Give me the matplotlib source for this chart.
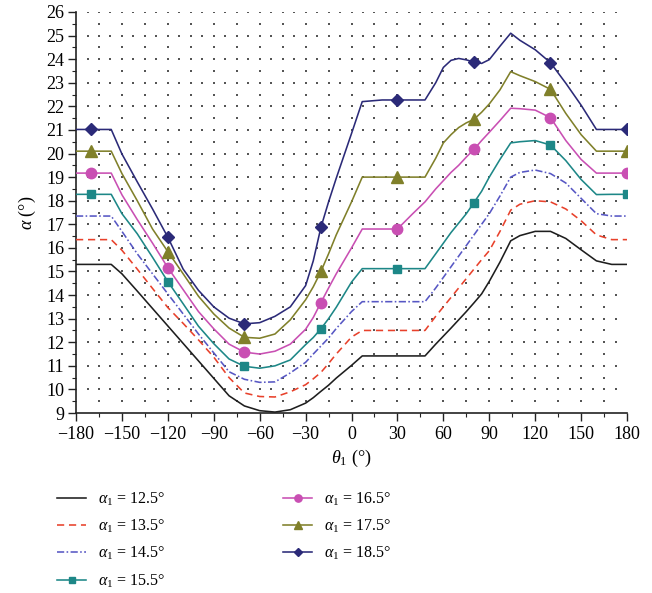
import numpy as np
import matplotlib
matplotlib.use('Agg')
import matplotlib.pyplot as plt
from matplotlib.ticker import MultipleLocator

plt.rcParams['font.family'] = ['Liberation Serif', 'DejaVu Serif']
plt.rcParams['mathtext.fontset'] = 'custom'
plt.rcParams['mathtext.rm'] = 'Liberation Serif'
plt.rcParams['mathtext.it'] = 'Liberation Serif:italic'

# theta_1 sample positions (deg)
theta = [-180, -170, -157, -150, -140, -130, -120, -110, -100, -90, -80, -70, -60, -50,
         -40, -30, -25, -20, -15, -10, 0, 7, 20, 30, 40, 48, 55, 60, 65, 70, 75, 80,
         85, 90, 97, 104, 110, 120, 130, 140, 150, 160, 170, 180]
marker_theta = [-170, -120, -70, -20, 30, 80, 130, 180]

a125 = [15.3, 15.3, 15.3, 14.9, 14.17, 13.43, 12.69, 11.95, 11.21, 10.47, 9.73, 9.3, 9.1, 9.04,
        9.14, 9.42, 9.65, 9.92, 10.18, 10.48, 11.02, 11.42, 11.42, 11.42, 11.42, 11.42, 11.92, 12.26,
        12.6, 12.95, 13.3, 13.67, 14.05, 14.58, 15.4, 16.3, 16.52, 16.7, 16.7, 16.4, 15.92, 15.45,
        15.3, 15.3]
a135 = [16.35, 16.35, 16.35, 15.9, 15.1, 14.28, 13.47, 12.8, 12.1, 11.37, 10.5, 9.85, 9.7, 9.68,
        9.9, 10.2, 10.45, 10.72, 11.1, 11.5, 12.22, 12.5, 12.5, 12.5, 12.5, 12.5, 13.1, 13.5,
        13.9, 14.3, 14.7, 15.1, 15.5, 15.88, 16.7, 17.6, 17.85, 18.0, 17.95, 17.65, 17.15, 16.55,
        16.35, 16.35]
a145 = [17.35, 17.35, 17.35, 16.7, 15.75, 14.9, 14.05, 13.2, 12.35, 11.55, 10.75, 10.43, 10.3, 10.32,
        10.7, 11.15, 11.5, 11.84, 12.18, 12.58, 13.3, 13.72, 13.72, 13.72, 13.72, 13.72, 14.3, 14.75,
        15.2, 15.65, 16.1, 16.55, 17.0, 17.45, 18.2, 19.0, 19.2, 19.3, 19.15, 18.75, 18.1, 17.45,
        17.35, 17.35]
a155 = [18.27, 18.27, 18.27, 17.45, 16.6, 15.6, 14.57, 13.63, 12.68, 11.94, 11.29, 10.98, 10.9, 11.0,
        11.25, 11.9, 12.2, 12.57, 13.0, 13.48, 14.55, 15.12, 15.12, 15.12, 15.12, 15.12, 15.75, 16.2,
        16.65, 17.05, 17.45, 17.92, 18.4, 19.0, 19.75, 20.45, 20.5, 20.55, 20.36, 19.7, 18.9, 18.26,
        18.27, 18.27]
a165 = [19.17, 19.17, 19.17, 18.25, 17.2, 16.2, 15.16, 14.23, 13.3, 12.57, 11.92, 11.58, 11.5, 11.62,
        11.92, 12.55, 13.05, 13.68, 14.3, 14.9, 16.0, 16.8, 16.8, 16.8, 17.45, 17.95, 18.5, 18.85,
        19.2, 19.5, 19.85, 20.18, 20.55, 20.9, 21.4, 21.92, 21.9, 21.84, 21.52, 20.55, 19.75, 19.17,
        19.17, 19.17]
a175 = [20.1, 20.1, 20.1, 19.15, 18.0, 16.8, 15.84, 14.9, 13.95, 13.2, 12.6, 12.21, 12.17, 12.35,
        12.95, 13.8, 14.35, 15.0, 15.75, 16.55, 17.95, 19.0, 19.0, 19.0, 19.0, 19.0, 19.8, 20.45,
        20.8, 21.1, 21.3, 21.45, 21.75, 22.1, 22.7, 23.47, 23.3, 23.05, 22.72, 21.7, 20.8, 20.1,
        20.1, 20.1]
a185 = [21.02, 21.02, 21.02, 19.98, 18.8, 17.65, 16.45, 15.1, 14.2, 13.5, 13.02, 12.78, 12.83, 13.1,
        13.5, 14.4, 15.45, 16.87, 17.95, 18.95, 20.85, 22.2, 22.27, 22.27, 22.27, 22.27, 23.0, 23.65,
        23.95, 24.03, 23.97, 23.88, 23.82, 23.98, 24.55, 25.1, 24.8, 24.4, 23.85, 22.98, 22.05, 21.02,
        21.02, 21.02]

labels = ['12.5', '13.5', '14.5', '15.5', '16.5', '17.5', '18.5']
series = [a125, a135, a145, a155, a165, a175, a185]
colors = ['#1e1e1e', '#e8412b', '#5757c4', '#1d8787', '#c94fb3', '#80802a', '#2b2a78']
styles = ['-', (0, (4.5, 3.0)), (0, (4.5, 1.5, 1.0, 1.5)), '-', '-', '-', '-']
markers = [None, None, None, 's', 'o', '^', 'D']
msizes = [0, 0, 0, 6, 7.5, 8, 6.5]

fig = plt.figure(figsize=(6.52, 5.93), dpi=100)
ax = fig.add_axes([0.1166, 0.3035, 0.8451, 0.6763])

# dotted background grid
gx_minor = np.arange(-165, 180, 15)
gx_major = np.arange(-172.5, 180, 7.5)
gy_half = np.arange(9.5, 26, 1.0)
gy_int = np.arange(10, 26.5, 1.0)
X1, Y1 = np.meshgrid(gx_minor, gy_half)
X2, Y2 = np.meshgrid(gx_major, gy_int)
ax.scatter(X1.ravel(), Y1.ravel(), s=0.7, c='#555555', marker='s', linewidths=0, zorder=1)
ax.scatter(X2.ravel(), Y2.ravel(), s=0.7, c='#555555', marker='s', linewidths=0, zorder=1)

mk_idx = [theta.index(t) for t in marker_theta]
for lab, vals, c, ls, m, ms in zip(labels, series, colors, styles, markers, msizes):
    kw = {}
    if m is not None:
        kw = dict(marker=m, markersize=ms, markevery=mk_idx, markerfacecolor=c, markeredgecolor=c)
    ax.plot(theta, vals, color=c, linestyle=ls, lw=1.15, zorder=3,
            label=r'$\alpha_1$ = ' + lab + '°', **kw)

ax.set_xlim(-180, 180)
ax.set_ylim(9, 26)
ax.xaxis.set_major_locator(MultipleLocator(30))
ax.xaxis.set_minor_locator(MultipleLocator(15))
ax.yaxis.set_major_locator(MultipleLocator(1))
ax.yaxis.set_minor_locator(MultipleLocator(0.5))
ax.tick_params(which='major', direction='out', length=5.5, width=1, labelsize=13, color='#222222')
ax.tick_params(which='minor', direction='out', length=3, width=0.8, color='#222222')
ax.tick_params(axis='x', pad=4)
ax.tick_params(axis='y', pad=3)
for s in ['top', 'right']:
    ax.spines[s].set_visible(False)
for s in ['left', 'bottom']:
    ax.spines[s].set_linewidth(1.2)
    ax.spines[s].set_color('#222222')

ax.set_xlabel(r'$\theta_1$ (°)', fontsize=13, labelpad=3)
ax.set_ylabel(r'$\alpha$ (°)', fontsize=13, labelpad=6)

fig.legend(loc='upper left', bbox_to_anchor=(0.078, 0.184), ncol=2, frameon=False,
           fontsize=11.5, handlelength=1.8, handletextpad=0.75, columnspacing=7.4,
           labelspacing=0.62, markerscale=0.7, borderaxespad=0)

fig.savefig('out.png', dpi=100)
